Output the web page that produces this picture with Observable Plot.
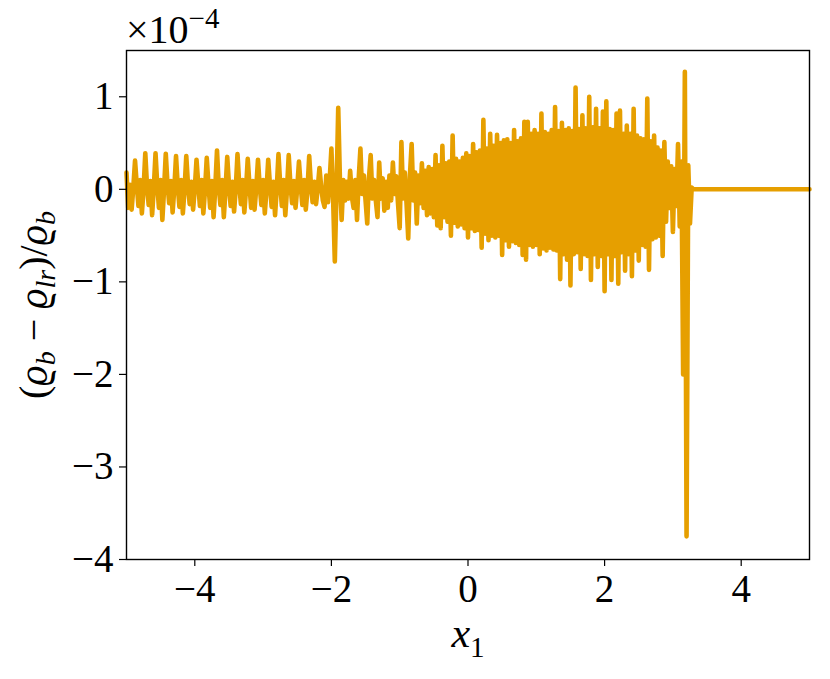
<!DOCTYPE html>
<html>
<head>
<meta charset="utf-8">
<script src="https://cdn.jsdelivr.net/npm/d3@7"></script>
<script src="https://cdn.jsdelivr.net/npm/@observablehq/plot@0.6"></script>
<style>
  html, body { margin: 0; padding: 0; background: white; }
  #chart svg { display: block; }
</style>
</head>
<body>
<div id="chart"></div>
<script>
// Sampling grid of the x1 axis (start and step); values in units of 1e-4
const x1Start = -5.0;
const x1Step = 0.025;
// (rho_b - rho_lr)/rho_b  ×1e-4, one value per grid step
const q = [
  0.18, -0.2, 0.05, -0.22, 0.02, 0.31, 0.05, -0.18, 0.1, -0.26,
  0.0, 0.39, 0.04, -0.17, 0.09, -0.28, 0.02, 0.39, 0.05, -0.2,
  0.1, -0.33, 0.0, 0.385, 0.06, -0.15, 0.09, -0.25, 0.01, 0.36,
  0.04, -0.19, 0.1, -0.26, 0.0, 0.36, 0.05, -0.16, 0.08, -0.22,
  0.01, 0.32, 0.06, -0.18, 0.1, -0.26, 0.0, 0.34, 0.05, -0.2,
  0.09, -0.3, 0.02, 0.42, 0.04, -0.17, 0.1, -0.3, 0.0, 0.35,
  0.05, -0.18, 0.08, -0.24, 0.01, 0.38, 0.06, -0.16, 0.1, -0.25,
  0.0, 0.33, 0.05, -0.2, 0.09, -0.22, 0.02, 0.32, 0.04, -0.17,
  0.1, -0.26, 0.0, 0.32, 0.05, -0.19, 0.08, -0.28, 0.01, 0.38,
  0.06, -0.18, 0.1, -0.28, 0.0, 0.37, 0.05, -0.15, 0.09, -0.2,
  0.02, 0.30, 0.04, -0.17, 0.1, -0.22, 0.0, 0.36, 0.05, -0.14,
  0.08, -0.16, 0.01, 0.23, 0.03, -0.12, -0.19, 0.15, -0.14, 0.1,
  0.44, -0.1, -0.78, 0.0, 0.88, 0.1, -0.33, 0.1, -0.12, 0.08,
  -0.1, 0.2, -0.08, -0.2, 0.1, -0.33, 0.12, 0.44, -0.05, 0.15,
  -0.12, -0.37, 0.12, 0.37, -0.1, 0.1, -0.12, -0.3, 0.29, -0.1,
  0.12, -0.23, 0.08, -0.2, 0.15, -0.12, 0.29, -0.05, 0.14, -0.15,
  -0.42, 0.51, -0.1, 0.18, -0.15, -0.53, 0.15, 0.49, -0.12, 0.18,
  -0.37, 0.15, -0.15, 0.28, -0.2, 0.2, -0.28, 0.24, -0.26, 0.22,
  -0.3, 0.37, -0.39, 0.26, -0.42, 0.47, -0.3, 0.28, -0.35, 0.3,
  -0.5, 0.58, -0.36, 0.33, -0.4, 0.3, -0.38, 0.34, -0.42, 0.39,
  -0.52, 0.36, -0.42, 0.49, -0.45, 0.4, -0.44, 0.42, -0.63, 0.75,
  -0.48, 0.44, -0.55, 0.6, -0.5, 0.47, -0.52, 0.59, -0.5, 0.5,
  -0.71, 0.53, -0.55, 0.54, -0.62, 0.5, -0.56, 0.64, -0.58, 0.52,
  -0.6, 0.55, -0.71, 0.73, -0.76, 0.73, -0.6, 0.6, -0.62, 0.64,
  -0.6, 0.6, -0.7, 0.82, -0.64, 0.62, -0.66, 0.6, -0.63, 0.64,
  -0.65, 0.89, -0.66, 0.63, -0.97, 0.72, -0.7, 0.64, -0.76, 0.66,
  -1.04, 0.63, -0.7, 1.10, -0.68, 0.65, -0.86, 0.8, -0.7, 0.66,
  -0.72, 1.0, -0.98, 0.67, -0.7, 0.87, -0.84, 0.66, -0.72, 0.84,
  -1.10, 0.95, -0.7, 0.65, -0.98, 0.64, -0.72, 0.82, -1.02, 0.85,
  -0.68, 0.6, -0.88, 0.69, -0.7, 0.6, -0.94, 0.87, -0.66, 0.58,
  -0.77, 0.55, -0.6, 0.54, -0.62, 0.98, -0.87, 0.52, -0.54, 0.58,
  -0.52, 0.45, -0.5, 0.42, -0.72, 0.51, -0.35, 0.3, -0.2, 0.25,
  -0.46, 0.22, -0.18, 0.49, -0.4, 0.3, -2.0, 1.27, -3.75, 0.26,
  -0.37, 0.02, 0.0
];
// Flat tail after the front
const tailX1 = [5.0];
const tailQ = [0.0];

const xTicks = [-4, -2, 0, 2, 4];
const yTicks = [-4, -3, -2, -1, 0, 1];

const data = q.map((v, i) => ({x: x1Start + i * x1Step, q: v}))
  .concat(tailX1.map((x, i) => ({x, q: tailQ[i]})));

const serif = "'Liberation Serif', 'DejaVu Serif', serif";
const fmt = d3.format("d");

const chart = Plot.plot({
  width: 830,
  height: 679,
  marginLeft: 126,
  marginRight: 21,
  marginTop: 50,
  marginBottom: 120,
  x: {domain: [-5, 5]},
  y: {domain: [-4, 1.5]},
  style: {fontFamily: serif, fontSize: "39px", background: "white", color: "black"},
  marks: [
    Plot.line(data, {x: "x", y: "q", stroke: "#E69F00", strokeWidth: 4.6,
      strokeLinejoin: "round", strokeLinecap: "round"}),
    Plot.frame({stroke: "black", strokeWidth: 1.4}),
    Plot.axisX({ticks: xTicks, tickFormat: fmt, tickSize: 7, tickPadding: 8, label: null, fontSize: 39, strokeWidth: 1.2}),
    Plot.axisY({ticks: yTicks, tickFormat: fmt, tickSize: 7, tickPadding: 6, label: null, fontSize: 39, strokeWidth: 1.2})
  ]
});
document.getElementById("chart").appendChild(chart);

const svg = d3.select(chart);
const ns = svg.append("g").style("font-family", serif).attr("fill", "black");

// exponent marker
const ex = ns.append("text").attr("x", 126).attr("y", 43)
  .attr("text-anchor", "start").style("font-size", "40px");
ex.append("tspan").text("×10");
ex.append("tspan").attr("dy", -15).style("font-size", "29px").text("−4");

// x label
const xl = ns.append("text").attr("x", 468).attr("y", 647).attr("text-anchor", "middle").style("font-size", "42px");
xl.append("tspan").style("font-style", "italic").text("x");
xl.append("tspan").attr("dy", 10).style("font-size", "29px").text("1");

// y label
const yl = ns.append("text").attr("transform", "translate(47,305) rotate(-90)")
  .attr("text-anchor", "middle").style("font-size", "40px");
yl.append("tspan").text("(");
yl.append("tspan").style("font-style", "italic").text("ϱ");
yl.append("tspan").attr("dy", 8).style("font-size", "28px").style("font-style", "italic").text("b");
yl.append("tspan").attr("dy", -8).text(" − ");
yl.append("tspan").style("font-style", "italic").text("ϱ");
yl.append("tspan").attr("dy", 8).style("font-size", "28px").style("font-style", "italic").text("lr");
yl.append("tspan").attr("dy", -8).text(")/");
yl.append("tspan").style("font-style", "italic").text("ϱ");
yl.append("tspan").attr("dy", 8).style("font-size", "28px").style("font-style", "italic").text("b");
</script>
</body>
</html>
